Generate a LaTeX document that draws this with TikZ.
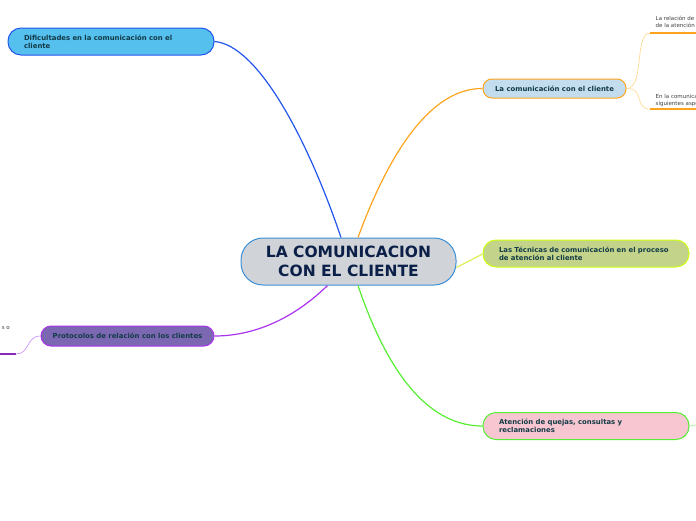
\documentclass[tikz,border=0pt]{standalone}
\usepackage{fontspec}
\setmainfont{DejaVu Sans}
\definecolor{ink}{HTML}{123B47}
\definecolor{navy}{HTML}{0B2048}
\definecolor{bluel}{HTML}{2255EE}
\definecolor{orl}{HTML}{FFA41F}
\definecolor{orlt}{HTML}{FFD58A}
\definecolor{yell}{HTML}{DDEE55}
\definecolor{grl}{HTML}{55EE33}
\definecolor{pul}{HTML}{AA33EE}
\definecolor{pult}{HTML}{CC88FF}
\definecolor{rootfill}{HTML}{D0D3D7}
\definecolor{rootline}{HTML}{3A8FD8}
\definecolor{diffill}{HTML}{55BFEE}
\definecolor{comfill}{HTML}{C3DDEE}
\definecolor{tecfill}{HTML}{C3D48A}
\definecolor{tecline}{HTML}{CCFF11}
\definecolor{atefill}{HTML}{F8C6D0}
\definecolor{profill}{HTML}{7C68B2}
\begin{document}
\begin{tikzpicture}[x=1pt,y=-1pt]
\tikzstyle{b}=[draw,line width=1pt,rounded corners=13pt,inner ysep=0pt,
  text=ink,font=\fontsize{6.9}{8}\selectfont\bfseries]
\tikzstyle{bl}=[b,inner xsep=16pt,text width=174pt,align=left,minimum height=27pt]
\tikzstyle{leaf}=[inner sep=0pt,anchor=west,align=left,text=black!75,
  font=\fontsize{5.5}{7.6}\selectfont]
\tikzstyle{br}=[line width=1.2pt]
\tikzstyle{tw}=[line width=0.6pt]

\clip (0,0) rectangle (696,520);
\useasboundingbox (0,0) rectangle (696,520);

% Central topic
\node[draw=rootline,fill=rootfill,line width=1pt,rounded corners=22pt,
  minimum width=215pt,minimum height=47pt,align=center,text=navy,
  font=\fontsize{15.5}{19}\selectfont\bfseries] (root) at (348.5,261.5)
  {LA COMUNICACION\\CON EL CLIENTE};

% Main topics
\node[bl,fill=diffill,draw=bluel] (dif) at (111,41.5)
  {Dificultades en la comunicación con el\\cliente};
\node[b,fill=comfill,draw=orl,rounded corners=9pt,minimum width=143pt,
  minimum height=19pt] (com) at (554.5,88.5) {La comunicación con el cliente};
\node[bl,fill=tecfill,draw=tecline] (tec) at (586,253.5)
  {Las Técnicas de comunicación en el proceso\\de atención al cliente};
\node[bl,fill=atefill,draw=grl] (ate) at (586,426)
  {Atención de quejas, consultas y\\reclamaciones};
\node[b,fill=profill,draw=pul,rounded corners=10pt,minimum width=173pt,
  minimum height=20pt] (pro) at (127.5,336) {Protocolos de relación con los clientes};

% Subtopics
\node[leaf] (rel) at (655.5,22) {La relación de\\de la atención};
\node[leaf] (asp) at (655.5,100.5) {En la comunica\\siguientes aspe};
\node[leaf,anchor=east] (pcl) at (10,328) {s o};
\coordinate (u1) at (650,33);
\coordinate (u2) at (650,109);
\coordinate (u3) at (16,354);

% Branches
\draw[br,bluel] ([xshift=-7.5pt]root.north) .. controls (308,140) and (258,45) .. (dif.east);
\draw[br,orl] ([xshift=9.5pt]root.north) .. controls (390,150) and (432,88) .. (com.west);
\draw[br,yell] ([yshift=-6pt]root.east) -- ([yshift=-0.5pt]tec.west);
\draw[br,grl] ([xshift=9.5pt]root.south) .. controls (390,380) and (432,426) .. (ate.west);
\draw[br,pul] ([xshift=-21pt]root.south) .. controls (290,322) and (250,336) .. (pro.east);

\draw[tw,orlt] (com.east) .. controls (645,88) and (634,33) .. (u1);
\draw[tw,orlt] (com.east) .. controls (645,88) and (634,109) .. (u2);
\draw[br,orl] (u1) -- (696,33);
\draw[br,orl] (u2) -- (696,109);
\draw[tw,grl!60] (ate.east) -- (696,425);
\draw[tw,pult] (pro.west) .. controls (26,336) and (30,354) .. (u3);
\draw[br,pul!80!black] (u3) -- (0,354);
\end{tikzpicture}
\end{document}
